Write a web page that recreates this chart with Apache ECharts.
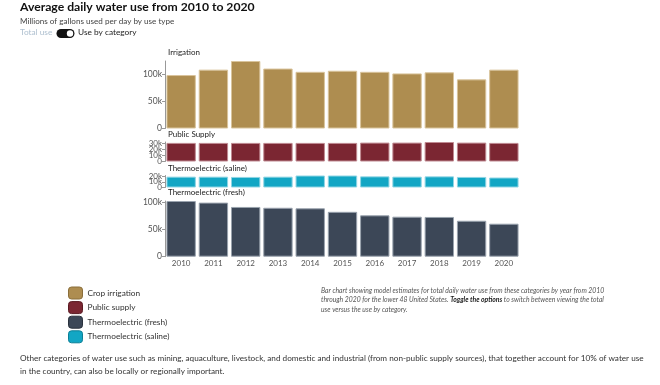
<!DOCTYPE html>
<html><head><meta charset="utf-8">
<script src="https://cdn.jsdelivr.net/npm/echarts@6/dist/echarts.min.js"></script>
<style>html,body{margin:0;padding:0;background:#fff}#c{width:660px;height:385px}</style>
</head><body><div id="c"></div>
<script>
const years = ['2010','2011','2012','2013','2014','2015','2016','2017','2018','2019','2020'];
const irrigation = [99000,109000,125000,111000,105000,107000,105000,102000,104000,91000,109000];
const publicSupply = [31000,31000,31000,31000,31000,31000,31500,31500,32500,31500,31000];
const saline = [19000,19000,18500,19000,21000,21000,19500,19000,19500,18500,17500];
const fresh = [103000,100000,92000,90500,89500,83000,76500,74000,73500,66500,61000];
const panelTitles = ['Irrigation','Public Supply','Thermoelectric (saline)','Thermoelectric (fresh)'];
const seriesNames = ['Crop irrigation','Public supply','Thermoelectric (saline)','Thermoelectric (fresh)'];
const legendOrder = ['Crop irrigation','Public supply','Thermoelectric (fresh)','Thermoelectric (saline)'];
// tick values per panel, split into two label sets so densely packed labels all stay visible
const yTicksA = [[0,50000,100000],[0,20000],[0,20000],[0,50000,100000]];
const yTicksB = [[],[10000,30000],[10000],[]];
const yMax = [125000,32500,21000,103000];

const FONT = 'Lato, "Noto Sans", sans-serif';
const colors = ['#AE8D50','#7B2632','#12A6C4','#3C4757'];
const borders = ['#D9C49C','#C08A92','#8FD5E4','#9AA3AE'];
const legendBorders = ['#8A6E3A','#5A1A22','#0C7F96','#2A323D'];
const grids = [
  {left:165, width:355, top:61, height:67.5},
  {left:165, width:355, top:142, height:19.5},
  {left:165, width:355, top:175.5, height:12},
  {left:165, width:355, top:201, height:55.7}
];
const dataSets = [irrigation, publicSupply, saline, fresh];

const chart = echarts.init(document.getElementById('c'), null, {renderer:'canvas'});
const fmt = v => v === 0 ? '0' : (v/1000) + 'k';
const small = i => (i===1||i===2);
const mkY = (i, vals, line) => ({
  type:'value', gridIndex:i, min:0, max:yMax[i], position:'left',
  splitLine:{show:false},
  axisLine:{show:line, lineStyle:{color:'#999', width:1}},
  axisTick:{show:vals.length>0, length:3, lineStyle:{color:'#999'}, customValues:vals.length?vals:[0]},
  axisLabel:{show:vals.length>0, fontSize:small(i)?8:8.5, color:'#555', margin:3, formatter:fmt, customValues:vals.length?vals:[0],
    fontFamily:FONT, showMinLabel:true, showMaxLabel:true, hideOverlap:false}
});
const yAxes = grids.map((g,i)=>mkY(i, yTicksA[i], true)).concat(grids.map((g,i)=>mkY(i, yTicksB[i], false)));
const option = {
  animation:false,
  textStyle:{fontFamily:FONT},
  grid: grids,
  xAxis: grids.map((g,i)=>({
    type:'category', gridIndex:i, data:years,
    axisLine:{show:false}, axisTick:{show:false},
    axisLabel:{show:i===3, fontSize:8, color:'#555', margin:3, fontFamily:FONT}
  })),
  yAxis: yAxes,
  legend:{
    orient:'vertical', left:63, top:281.5, itemWidth:14, itemHeight:12, itemGap:1.6,
    icon:'roundRect', selectedMode:false, padding:5,
    textStyle:{fontSize:8.3, color:'#333', fontFamily:FONT, lineHeight:12},
    data: legendOrder.map(n=>{const k=seriesNames.indexOf(n);return {name:n, itemStyle:{color:colors[k], borderColor:legendBorders[k], borderWidth:1}};})
  },
  series: dataSets.map((d,i)=>({
    type:'bar', name:seriesNames[i], xAxisIndex:i, yAxisIndex:i, data:d,
    barCategoryGap:'9%',
    itemStyle:{color:colors[i], borderColor:borders[i], borderWidth:1}
  })),
  graphic:[
    {type:'text', left:20, top:1.5, style:{text:'Average daily water use from 2010 to 2020', font:'bold 12.2px '+FONT, fill:'#111'}},
    {type:'text', left:20, top:17, style:{text:'Millions of gallons used per day by use type', font:'8.1px '+FONT, fill:'#444'}},
    {type:'text', left:20, top:28.8, style:{text:'Total use', font:'8.3px '+FONT, fill:'#AFC0D0'}},
    {type:'rect', shape:{x:56.5, y:29, width:18, height:9, r:4.5}, style:{fill:'#111'}},
    {type:'circle', shape:{cx:70, cy:33.5, r:3.2}, style:{fill:'#fff'}},
    {type:'text', left:78, top:28.8, style:{text:'Use by category', font:'8.3px '+FONT, fill:'#222'}},
    {type:'text', left:168, top:48.5, style:{text:panelTitles[0], font:'8px '+FONT, fill:'#222'}},
    {type:'text', left:168, top:130.5, style:{text:panelTitles[1], font:'8px '+FONT, fill:'#222'}},
    {type:'text', left:168, top:164, style:{text:panelTitles[2], font:'8px '+FONT, fill:'#222'}},
    {type:'text', left:168, top:188, style:{text:panelTitles[3], font:'8px '+FONT, fill:'#222'}},
    {type:'text', left:321, top:287, style:{
      rich:{n:{font:'italic 6.8px '+FONT, fill:'#555', lineHeight:9.5}, b:{font:'italic bold 6.8px '+FONT, fill:'#222', lineHeight:9.5}},
      text:'{n|Bar chart showing model estimates for total daily water use from these categories by year from 2010}\n{n|through 2020 for the lower 48 United States. }{b|Toggle the options}{n| to switch between viewing the total}\n{n|use versus the use by category.}'
    }},
    {type:'text', left:20, top:351.5, style:{
      text:'Other categories of water use such as mining, aquaculture, livestock, and domestic and industrial (from non-public supply sources), that together account for 10% of water use\nin the country, can also be locally or regionally important.',
      font:'8.2px '+FONT, fill:'#333', lineHeight:13}}
  ]
};
chart.setOption(option);
</script></body></html>
